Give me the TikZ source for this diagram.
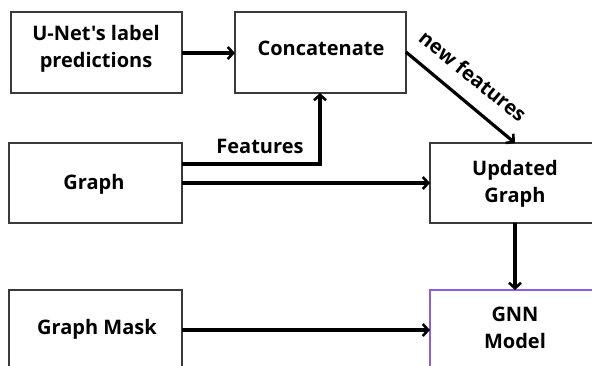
\documentclass[tikz,border=0pt]{standalone}
\usepackage{fontspec}
\newfontfamily\diagfont{Open Sans}
\usetikzlibrary{arrows.meta}
\definecolor{boxgray}{HTML}{3A3A3A}
\definecolor{gnnpurple}{HTML}{8C5CF0}
\begin{document}
\begin{tikzpicture}[x=1pt,y=-1pt,
  box/.style={draw=boxgray,line width=1.4pt,fill=white},
  lbl/.style={font=\diagfont\fontsize{20}{27}\selectfont\bfseries,align=center,inner sep=0pt},
  conn/.style={line width=3.2pt,-{Straight Barb[length=5.5pt,width=12pt,line width=2.6pt]}}]
\useasboundingbox (0,0) rectangle (592,365);
\clip (0,0) rectangle (592,365);
\fill[white] (0,0) rectangle (592,365);
% boxes
\draw[box] (11,12) rectangle (182,93);
\node[lbl] (unet) at (96,49) {U-Net's label\\predictions};
\coordinate (unetR) at (182,53);
\draw[box] (235,12) rectangle (406,93);
\node[lbl] (concat) at (321,48) {Concatenate};
\coordinate (concatL) at (235,53);
\coordinate (concatB) at (320,93);
\coordinate (concatR) at (406,52);
\draw[box] (9,143) rectangle (182,223);
\node[lbl] (graph) at (94,184) {Graph};
\coordinate (graphF) at (182,164);
\coordinate (graphR) at (182,183);
\draw[box] (430,143) rectangle (600,223);
\node[lbl] (upd) at (515,184) {Updated\\Graph};
\coordinate (updL) at (430,183);
\coordinate (updT) at (515,143);
\coordinate (updB) at (515,223);
\draw[box] (9,290) rectangle (182,380);
\node[lbl] (mask) at (97,329) {Graph Mask};
\coordinate (maskR) at (182,330);
\draw[box,draw=gnnpurple] (430,290) rectangle (600,380);
\node[lbl] (gnn) at (515,328) {GNN\\Model};
\coordinate (gnnL) at (430,330);
\coordinate (gnnT) at (515,290);
% connectors
\draw[conn] (unetR) -- (concatL);
\draw[conn] (graphF) -- (320,164) -- (concatB);
\node[lbl] (feat) at (260,146) {Features};
\draw[conn] (graphR) -- (updL);
\draw[conn] (concatR) -- (updT);
\node[lbl,rotate=-39] (newf) at (473,76) {new features};
\draw[conn] (updB) -- (gnnT);
\draw[conn] (maskR) -- (gnnL);
\end{tikzpicture}
\end{document}
